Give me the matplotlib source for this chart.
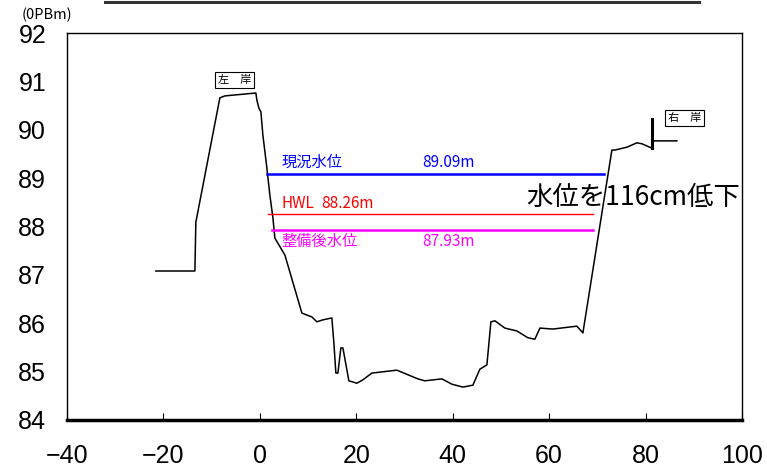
"""River cross-section with current / HWL / post-improvement water levels."""
import matplotlib
matplotlib.use("Agg")
import matplotlib.pyplot as plt
from matplotlib import font_manager
from matplotlib.lines import Line2D

# ---- cross-section profile (distance m, elevation OPBm) ----
dist = [-21.57, -13.48, -13.28, -8.30, -7.26, -0.83, -0.62, -0.21, 0.21, 0.62,
        1.45, 2.07, 2.70, 3.11, 3.94, 5.19, 5.60, 8.71, 10.79, 11.82,
        13.07, 14.93, 15.35, 15.76, 16.18, 16.80, 17.22, 18.46, 20.12, 21.36,
        23.23, 28.42, 32.77, 34.23, 37.75, 39.83, 42.11, 44.18, 45.63, 47.09,
        47.92, 48.75, 50.82, 53.31, 55.59, 57.04, 58.08, 60.78, 65.75, 67.00,
        73.01, 73.64, 76.13, 78.20, 79.24, 81.31, 81.31, 86.50]
elev = [87.08, 87.08, 88.09, 90.66, 90.70, 90.76, 90.61, 90.45, 90.37, 89.89,
        89.21, 88.65, 88.18, 87.76, 87.62, 87.41, 87.27, 86.21, 86.13, 86.03,
        86.07, 86.11, 85.59, 84.97, 84.97, 85.49, 85.49, 84.81, 84.76, 84.83,
        84.97, 85.03, 84.85, 84.81, 84.85, 84.74, 84.68, 84.72, 85.05, 85.14,
        86.03, 86.05, 85.90, 85.84, 85.70, 85.67, 85.90, 85.88, 85.94, 85.80,
        89.58, 89.58, 89.64, 89.73, 89.71, 89.62, 89.77, 89.77]
post_x = [81.31, 81.31]
post_y = [89.62, 90.22]

# ---- water levels ----
lvl_names = ["現況水位", "HWL", "整備後水位"]
lvl_vals = [89.09, 88.26, 87.93]
lvl_x0 = [1.45, 1.66, 2.49]
lvl_x1 = [71.35, 69.07, 69.07]
lvl_col = ["#0000ff", "#ff0000", "#ff00ff"]
lvl_lw = [1.8, 1.0, 1.8]

xticks = [-40, -20, 0, 20, 40, 60, 80, 100]
yticks = [84, 85, 86, 87, 88, 89, 90, 91, 92]

have = {f.name for f in font_manager.fontManager.ttflist}
NUM = ["Liberation Sans Narrow"] if "Liberation Sans Narrow" in have else ["Liberation Sans"]
JP = ["Noto Sans CJK JP", "DejaVu Sans"]
plt.rcParams["font.family"] = JP

fig = plt.figure(figsize=(7.67, 4.69), dpi=100)
ax = fig.add_axes([0.0874, 0.1045, 0.88, 0.8251])

ax.plot(dist, elev, color="black", lw=1.1)
ax.plot(post_x, post_y, color="black", lw=2.2)

for v, a, b, c, w in zip(lvl_vals, lvl_x0, lvl_x1, lvl_col, lvl_lw):
    ax.plot([a, b], [v, v], color=c, lw=w)

fs = 11
ax.text(4.56, 89.33, lvl_names[0], color=lvl_col[0], fontsize=fs, va="center")
ax.text(33.6, 89.33, f"{lvl_vals[0]:.2f}m", color=lvl_col[0], fontsize=fs, va="center")
ax.text(4.56, 88.47, lvl_names[1], color=lvl_col[1], fontsize=fs, va="center")
ax.text(12.65, 88.47, f"{lvl_vals[1]:.2f}m", color=lvl_col[1], fontsize=fs, va="center")
ax.text(4.56, 87.70, lvl_names[2], color=lvl_col[2], fontsize=fs, va="center")
ax.text(33.6, 87.70, f"{lvl_vals[2]:.2f}m", color=lvl_col[2], fontsize=fs, va="center")

ax.text(55.3, 88.59, "水位を116cm低下", fontsize=19, va="center", ha="left")

box = dict(boxstyle="square,pad=0.25", fc="white", ec="black", lw=0.8)
ax.text(-5.19, 91.03, "左\u3000岸", fontsize=8, ha="center", va="center", bbox=box)
ax.text(88.05, 90.24, "右\u3000岸", fontsize=8, ha="center", va="center", bbox=box)

ax.set_xlim(-40, 100)
ax.set_ylim(84, 92)
ax.set_xticks(xticks)
ax.set_yticks(yticks)
ax.tick_params(axis="x", direction="in", length=5, width=0.8, pad=17)
ax.tick_params(axis="y", length=0, pad=15)
for lab in ax.get_xticklabels() + ax.get_yticklabels():
    lab.set_family(NUM)
    lab.set_fontsize(18)
for s in ("left", "top", "right"):
    ax.spines[s].set_linewidth(1.0)
ax.spines["bottom"].set_linewidth(2.5)

fig.text(22 / 767, 1 - 15 / 469, "(0PBm)", fontsize=10.5, va="center", ha="left")
fig.add_artist(Line2D([105 / 767, 699 / 767], [1 - 2 / 469, 1 - 2 / 469],
                      color="#333333", lw=2.2, transform=fig.transFigure))

fig.savefig("out.png", dpi=100)
